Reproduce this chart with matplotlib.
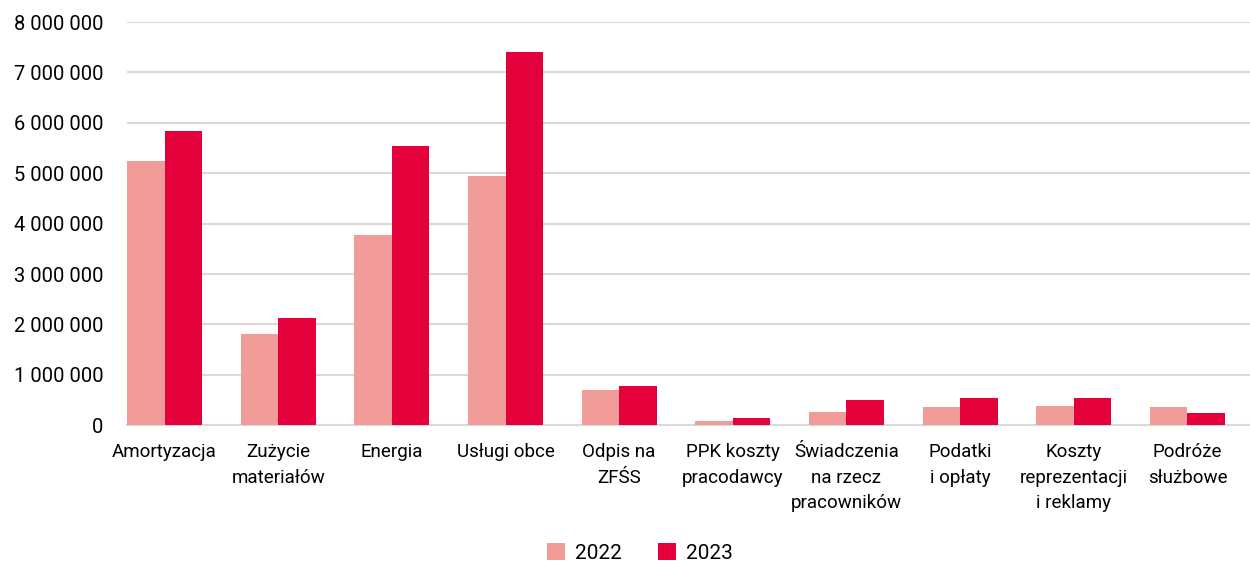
import numpy as np
import matplotlib.pyplot as plt
from matplotlib.ticker import FuncFormatter

plt.rcParams['font.family'] = ['Roboto', 'DejaVu Sans']

categories = ["Amortyzacja", "Zużycie\nmateriałów", "Energia", "Usługi obce",
              "Odpis na\nZFŚS", "PPK koszty\npracodawcy", "Świadczenia\nna rzecz\npracowników",
              "Podatki\ni opłaty", "Koszty\nreprezentacji\ni reklamy", "Podróże\nsłużbowe"]
v2022 = [5240000, 1810000, 3770000, 4940000, 710000, 93000, 260000, 370000, 380000, 370000]
v2023 = [5830000, 2120000, 5550000, 7400000, 770000, 140000, 500000, 535000, 535000, 240000]

c2022 = "#F29C99"
c2023 = "#E4003A"

fig = plt.figure(figsize=(12.5, 5.62), dpi=100)
ax = fig.add_axes([127 / 1250, 1 - 425.3 / 562, 1 - 127 / 1250, (425.3 - 22) / 562])

x = np.arange(len(categories))
w = 0.33
ax.bar(x - w / 2, v2022, w, color=c2022, label="2022", zorder=3)
ax.bar(x + w / 2, v2023, w, color=c2023, label="2023", zorder=3)

ax.set_xlim(-0.33, 9.55)
ax.set_ylim(0, 8000000)
ax.set_yticks(np.arange(0, 8000001, 1000000))
ax.yaxis.set_major_formatter(FuncFormatter(lambda v, p: f"{int(v):,}".replace(",", " ")))
ax.grid(axis="y", color="#D9D9D9", linewidth=1.5, zorder=0)

for s in ["top", "right", "left"]:
    ax.spines[s].set_visible(False)
ax.spines["bottom"].set_color("#D9D9D9")
ax.spines["bottom"].set_linewidth(1.5)

ax.set_xticks(x)
ax.set_xticklabels(categories, fontsize=13.5, linespacing=1.52)
ax.tick_params(axis="x", length=0, pad=13, colors="#000000")
ax.tick_params(axis="y", length=0, pad=17, labelsize=14.5, colors="#000000")

fig.legend(loc="center", bbox_to_anchor=(0.512, 1 - 553 / 562), ncol=2, frameon=False,
           fontsize=15, handlelength=0.9, handleheight=0.9, columnspacing=1.7, handletextpad=0.48)

fig.savefig("out.png", dpi=100)
